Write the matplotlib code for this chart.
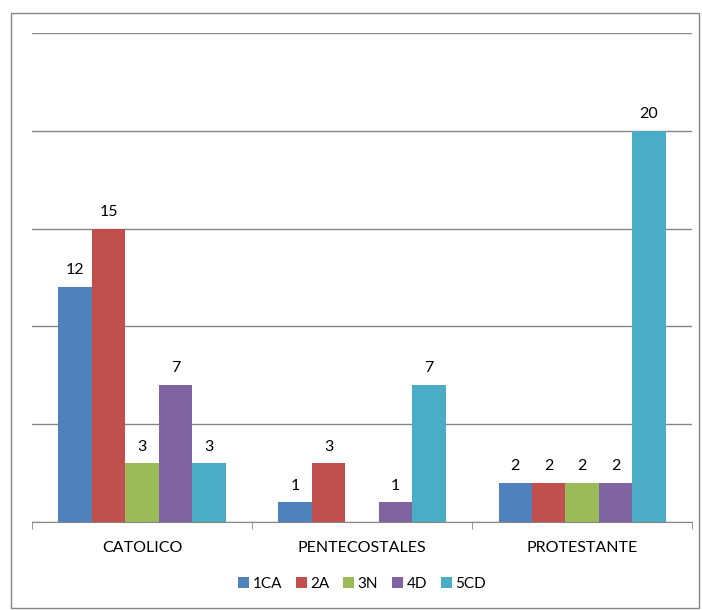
import numpy as np
import matplotlib.pyplot as plt
from matplotlib.patches import Rectangle

plt.rcParams['font.family'] = ['Lato', 'DejaVu Sans']

categories = ['CATOLICO', 'PENTECOSTALES', 'PROTESTANTE']
series = ['1CA', '2A', '3N', '4D', '5CD']
values = {
    '1CA': [12, 1, 2],
    '2A': [15, 3, 2],
    '3N': [3, 0, 2],
    '4D': [7, 1, 2],
    '5CD': [3, 7, 20],
}
colors = ['#4F81BD', '#C0504D', '#9BBB59', '#8064A2', '#4BACC6']

fig = plt.figure(figsize=(7.02, 6.10), dpi=100)
ax = fig.add_axes([0.0456, 0.1443, 0.9404, 0.8017])

x = np.arange(len(categories))
w = 0.152
for i, s in enumerate(series):
    pos = x + (i - 2) * w
    vals = values[s]
    ax.bar(pos, vals, width=w, color=colors[i], label=s, zorder=3)
    for p, v in zip(pos, vals):
        if v > 0:
            ax.text(p, v + 0.5, str(v), ha='center', va='bottom', fontsize=11.5)

ax.set_xlim(-0.5, 2.5)
ax.set_ylim(0, 25)
ax.set_yticks(np.arange(0, 26, 5))
ax.yaxis.grid(True, color='#868686', linewidth=1, zorder=0)
ax.tick_params(axis='y', length=0, labelleft=False)
ax.set_xticks(x)
ax.set_xticklabels(categories, fontsize=11.5)
ax.tick_params(axis='x', length=0, pad=14)
ax.set_xticks([-0.5, 0.5, 1.5, 2.5], minor=True)
ax.tick_params(axis='x', which='minor', length=5, direction='out', color='#868686')
for sp in ['top', 'right', 'left']:
    ax.spines[sp].set_visible(False)
ax.spines['bottom'].set_color('#868686')

ax.legend(loc='center', bbox_to_anchor=(0.5, -0.127), ncol=5, frameon=False,
          fontsize=11, handlelength=0.7, handleheight=0.7, handletextpad=0.25,
          columnspacing=0.9)

fig.add_artist(Rectangle((11 / 702, 2 / 610), 688 / 702, 595 / 610,
                         transform=fig.transFigure, fill=False,
                         edgecolor='#868686', linewidth=1))

fig.savefig('out.png', dpi=100)
